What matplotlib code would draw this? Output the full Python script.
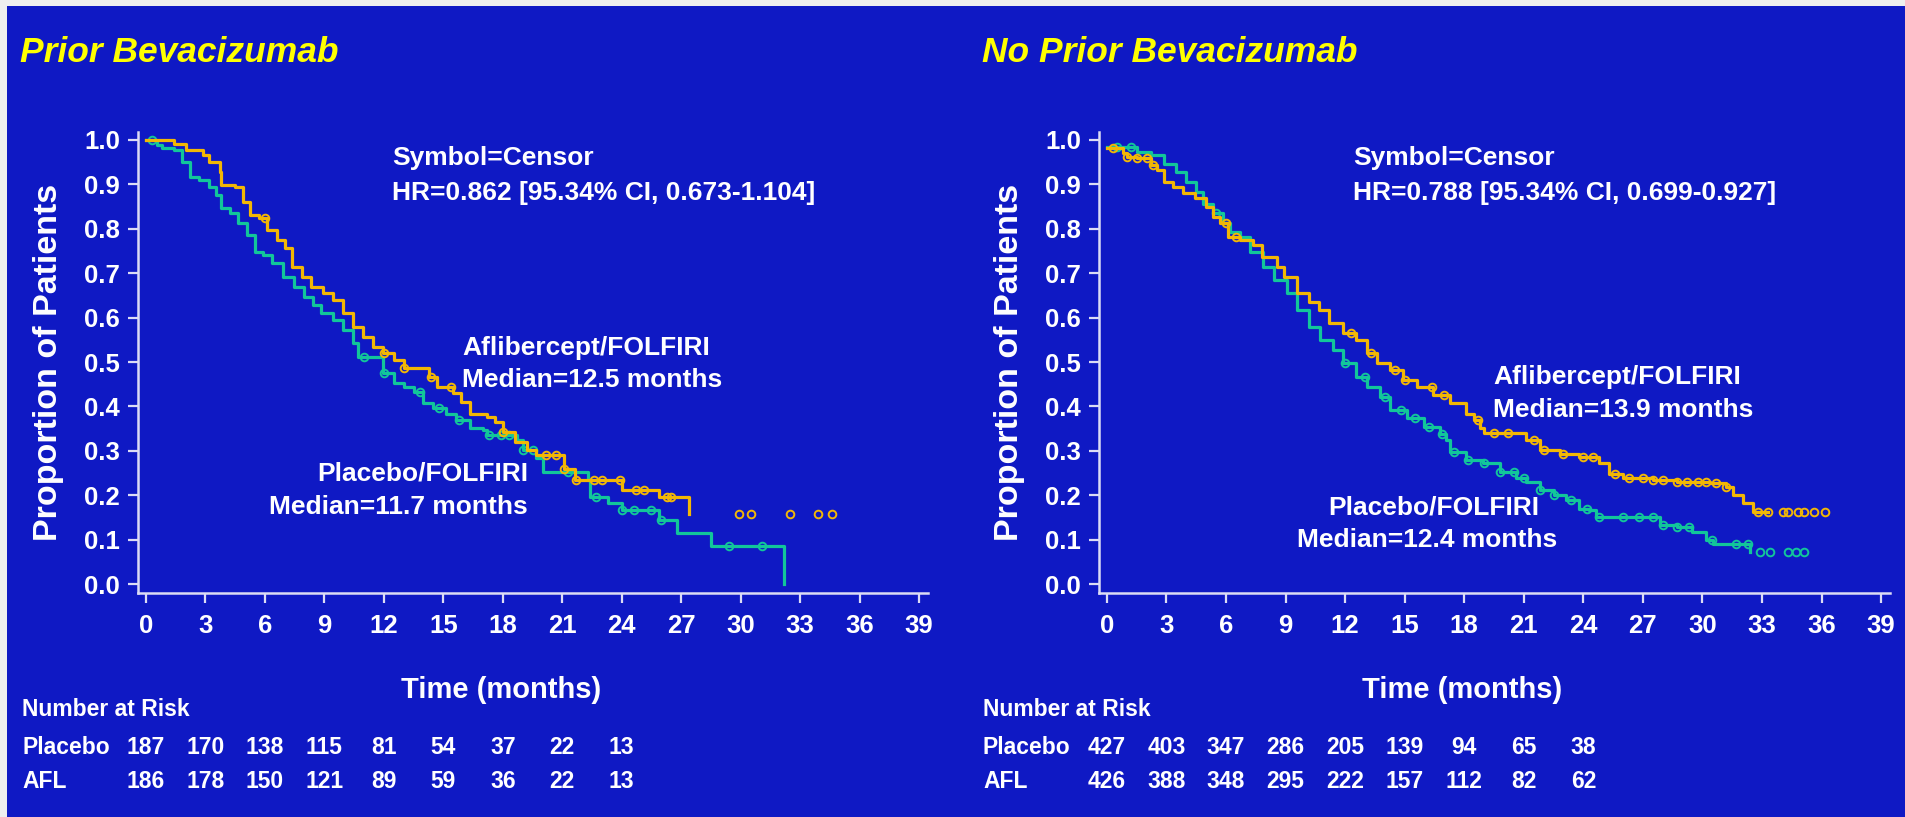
import numpy as np
import matplotlib
matplotlib.use('Agg')
import matplotlib.pyplot as plt
import matplotlib.transforms as mtransforms
from matplotlib.patches import Rectangle

plt.rcParams['font.family'] = ['Liberation Sans', 'DejaVu Sans']
plt.rcParams['font.weight'] = 'bold'

BLUE = '#0F19C4'
ORANGE = '#F2B705'
GREEN = '#12C69A'
WHITE = '#FFFFFF'
SPINE = '#DCDCF5'

# ---- data ----
titles = ['Prior Bevacizumab', 'No Prior Bevacizumab']
hr_text = ['HR=0.862 [95.34% CI, 0.673-1.104]', 'HR=0.788 [95.34% CI, 0.699-0.927]']
afl_median = ['Median=12.5 months', 'Median=13.9 months']
pbo_median = ['Median=11.7 months', 'Median=12.4 months']

risk_times = [0, 3, 6, 9, 12, 15, 18, 21, 24]
risk_pbo_prior = [187, 170, 138, 115, 81, 54, 37, 22, 13]
risk_afl_prior = [186, 178, 150, 121, 89, 59, 36, 22, 13]
risk_pbo_noprior = [427, 403, 347, 286, 205, 139, 94, 65, 38]
risk_afl_noprior = [426, 388, 348, 295, 222, 157, 112, 82, 62]

# prior bevacizumab - aflibercept
afl1_t = [0, 1.4, 2.0, 2.9, 3.2, 3.75, 3.8, 4.5, 4.9, 5.25, 5.7, 6.1, 6.6, 7.0, 7.35, 7.85,
          8.35, 8.95, 9.45, 9.95, 10.45, 10.95, 11.45, 11.95, 12.5, 13.0, 14.3, 14.7, 15.5,
          15.9, 16.35, 17.2, 17.6, 18.0, 18.6, 19.2, 19.7, 21.1, 21.65, 21.9, 24.0, 25.9, 27.4]
afl1_s = [1.0, 0.992, 0.977, 0.966, 0.951, 0.929, 0.899, 0.895, 0.861, 0.831, 0.824, 0.797,
          0.775, 0.756, 0.715, 0.692, 0.670, 0.655, 0.640, 0.610, 0.580, 0.557, 0.534, 0.520,
          0.505, 0.486, 0.467, 0.444, 0.430, 0.410, 0.384, 0.377, 0.365, 0.343, 0.320, 0.302,
          0.290, 0.260, 0.234, 0.234, 0.213, 0.197, 0.159]
afl1_cens = [6.0, 12.0, 13.0, 14.4, 15.4, 18.0, 20.2, 20.7, 21.1, 21.7, 22.6, 23.0, 23.9,
             24.7, 25.1, 26.3, 26.5, 29.9, 30.5, 32.5, 33.9, 34.6]

# prior bevacizumab - placebo
pbo1_t = [0, 0.55, 0.8, 1.4, 1.8, 2.2, 2.7, 3.2, 3.55, 3.8, 4.25, 4.65, 5.1, 5.5, 5.9, 6.35,
          6.9, 7.45, 7.95, 8.45, 8.85, 9.45, 9.95, 10.45, 10.7, 11.95, 12.5, 13.0, 13.5, 14.0,
          14.5, 15.15, 15.65, 16.35, 17.0, 17.2, 18.7, 19.0, 19.7, 20.05, 22.3, 22.4, 23.3,
          24.0, 25.9, 26.8, 28.5, 32.2]
pbo1_s = [1.0, 0.989, 0.981, 0.977, 0.951, 0.917, 0.910, 0.895, 0.876, 0.846, 0.835, 0.812,
          0.786, 0.748, 0.741, 0.722, 0.692, 0.670, 0.647, 0.628, 0.610, 0.595, 0.572, 0.542,
          0.512, 0.475, 0.452, 0.444, 0.433, 0.407, 0.396, 0.384, 0.369, 0.351, 0.347, 0.336,
          0.324, 0.302, 0.283, 0.253, 0.234, 0.197, 0.182, 0.167, 0.144, 0.114, 0.086, 0.0]
pbo1_cens = [0.3, 11.0, 12.0, 13.8, 14.8, 15.8, 17.3, 17.9, 18.3, 19.0, 19.5, 21.3, 22.7,
             24.0, 24.6, 25.5, 26.0, 29.4, 31.1]

# no prior bevacizumab - aflibercept
afl2_t = [0, 0.8, 1.0, 1.5, 2.2, 2.5, 2.85, 3.35, 3.85, 4.45, 5.0, 5.35, 5.7, 6.1, 6.7, 7.35,
          7.8, 8.55, 8.9, 9.55, 10.2, 10.7, 11.2, 11.9, 12.55, 13.1, 13.6, 14.25, 14.9, 15.6,
          16.45, 17.3, 18.1, 18.5, 18.8, 19.0, 21.1, 21.8, 22.8, 23.8, 24.8, 25.3, 26.0, 27.5,
          28.7, 30.4, 31.2, 31.55, 32.05, 32.55, 33.3]
afl2_s = [0.981, 0.970, 0.962, 0.959, 0.944, 0.932, 0.906, 0.895, 0.880, 0.869, 0.850, 0.827,
          0.812, 0.782, 0.775, 0.763, 0.737, 0.715, 0.692, 0.655, 0.636, 0.617, 0.587, 0.565,
          0.550, 0.520, 0.497, 0.482, 0.459, 0.444, 0.426, 0.407, 0.384, 0.369, 0.352, 0.340,
          0.324, 0.302, 0.294, 0.287, 0.272, 0.249, 0.238, 0.234, 0.230, 0.227, 0.219, 0.200,
          0.182, 0.163, 0.163]
afl2_cens = [0.3, 1.0, 1.5, 2.0, 2.3, 6.0, 6.5, 12.3, 13.3, 14.5, 15.0, 16.4, 17.0, 18.7, 19.5,
             20.2, 21.5, 22.0, 23.0, 24.0, 24.5, 25.6, 26.3, 27.0, 27.5, 28.0, 28.7, 29.2,
             29.8, 30.2, 30.7, 31.2, 32.8, 33.3, 34.07, 34.3, 34.8, 35.1, 35.6, 36.2]

# no prior bevacizumab - placebo
pbo2_t = [0, 1.5, 2.2, 2.85, 3.5, 4.0, 4.5, 4.85, 5.35, 5.85, 6.2, 6.7, 7.2, 7.85, 8.4, 9.05,
          9.55, 10.2, 10.75, 11.4, 11.9, 12.55, 13.1, 13.75, 14.25, 15.1, 15.95, 16.8, 17.1,
          17.3, 18.1, 18.95, 19.8, 20.6, 21.1, 21.8, 22.5, 23.15, 23.8, 24.3, 24.65, 27.85,
          28.7, 29.5, 30.2, 30.55, 32.4]
pbo2_s = [0.985, 0.974, 0.966, 0.947, 0.929, 0.906, 0.884, 0.857, 0.835, 0.812, 0.793, 0.782,
          0.748, 0.715, 0.685, 0.655, 0.617, 0.580, 0.550, 0.527, 0.497, 0.467, 0.444, 0.422,
          0.392, 0.373, 0.354, 0.339, 0.324, 0.298, 0.279, 0.272, 0.253, 0.238, 0.230, 0.212,
          0.200, 0.189, 0.170, 0.167, 0.150, 0.133, 0.129, 0.118, 0.099, 0.090, 0.073]
pbo2_cens = [0.5, 1.2, 5.5, 12.0, 13.0, 14.0, 14.8, 15.5, 16.2, 16.9, 17.5, 18.2, 19.0, 19.8,
             20.5, 21.0, 21.8, 22.5, 23.4, 24.2, 24.8, 26.0, 26.8, 27.5, 28.0, 28.7, 29.3,
             30.5, 31.7, 32.3, 32.9, 33.4, 34.3, 34.7, 35.1]


def surv_at(t, s, when):
    idx = np.searchsorted(np.array(t), np.array(when), side='right') - 1
    return np.array(s)[idx]


fig = plt.figure(figsize=(19.05, 8.17), dpi=100)
fig.patch.set_facecolor('#EFEFEF')
fig.patches.append(Rectangle((7 / 1905, 0), 1, 1 - 6 / 817, transform=fig.transFigure,
                             facecolor=BLUE, edgecolor='none', zorder=-10))

ax1 = fig.add_axes([138 / 1905, 224 / 817, 790 / 1905, 461 / 817])
ax2 = fig.add_axes([1099 / 1905, 224 / 817, 791 / 1905, 461 / 817])

panels = [
    (ax1, afl1_t, afl1_s, afl1_cens, pbo1_t, pbo1_s, pbo1_cens, risk_pbo_prior, risk_afl_prior, 20, 22),
    (ax2, afl2_t, afl2_s, afl2_cens, pbo2_t, pbo2_s, pbo2_cens, risk_pbo_noprior, risk_afl_noprior, 982, 983),
]

for i, (ax, at, as_, ac, pt, ps, pc, rp, ra, title_x, table_x) in enumerate(panels):
    ax.set_facecolor('none')
    ax.step(pt, ps, where='post', color=GREEN, lw=2.3, zorder=3)
    ax.step(at, as_, where='post', color=ORANGE, lw=2.3, zorder=4)
    ax.plot(pc, surv_at(pt, ps, pc), 'o', ms=5.5, mfc='none', mec=GREEN, mew=1.4, zorder=3)
    ax.plot(ac, surv_at(at, as_, ac), 'o', ms=5.5, mfc='none', mec=ORANGE, mew=1.4, zorder=4)

    ax.set_xlim(-0.4, 39.45)
    ax.set_ylim(-0.02, 1.018)
    ax.set_xticks(np.arange(0, 40, 3))
    ax.set_yticks(np.arange(0, 1.01, 0.1))
    ax.set_yticklabels(['%.1f' % v for v in np.arange(0, 1.01, 0.1)])
    for sp in ['top', 'right']:
        ax.spines[sp].set_visible(False)
    for sp in ['left', 'bottom']:
        ax.spines[sp].set_color(SPINE)
        ax.spines[sp].set_linewidth(1.8)
    ax.tick_params(colors=SPINE, labelcolor=WHITE, labelsize=18.5, length=7, width=1.6)
    ax.tick_params(axis='y', pad=6)
    ax.tick_params(axis='x', pad=8)

    ax.text(-0.113, 0.5, 'Proportion of Patients', transform=ax.transAxes, rotation=90,
            ha='center', va='center', color=WHITE, fontsize=24.5, fontweight='bold')

    # annotations
    ax.text(12.4, 0.959, 'Symbol=Censor', color=WHITE, fontsize=19, va='center', ha='left')
    ax.text(12.4, 0.881, hr_text[i], color=WHITE, fontsize=19, va='center', ha='left')
    if i == 0:
        ax.text(15.94, 0.532, 'Aflibercept/FOLFIRI', color=WHITE, fontsize=19, va='center')
        ax.text(15.94, 0.459, afl_median[i], color=WHITE, fontsize=19, va='center')
        ax.text(19.27, 0.250, 'Placebo/FOLFIRI', color=WHITE, fontsize=19, va='center', ha='right')
        ax.text(19.27, 0.173, pbo_median[i], color=WHITE, fontsize=19, va='center', ha='right')
    else:
        ax.text(19.45, 0.466, 'Aflibercept/FOLFIRI', color=WHITE, fontsize=19, va='center')
        ax.text(19.45, 0.392, afl_median[i], color=WHITE, fontsize=19, va='center')
        ax.text(11.13, 0.173, 'Placebo/FOLFIRI', color=WHITE, fontsize=19, va='center')
        ax.text(9.57, 0.099, pbo_median[i], color=WHITE, fontsize=19, va='center')

    # titles and x label / risk table
    fig.text(title_x / 1905, 1 - 52 / 817, titles[i], color='#FFFF00', fontsize=25.5,
             fontstyle='italic', fontweight='bold', va='center', ha='left')
    blend = mtransforms.blended_transform_factory(ax.transData, fig.transFigure)
    ax.text(17.9, 1 - 690 / 817, 'Time (months)', transform=blend, color=WHITE,
            fontsize=21, ha='center', va='center')
    fig.text(table_x / 1905, 1 - 710 / 817, 'Number at Risk', color=WHITE, fontsize=16.5, va='center')
    fig.text(table_x / 1905, 1 - 747 / 817, 'Placebo', color=WHITE, fontsize=16.5, va='center')
    fig.text(table_x / 1905, 1 - 782 / 817, 'AFL', color=WHITE, fontsize=16.5, va='center')
    for t, n1, n2 in zip(risk_times, rp, ra):
        ax.text(t, 1 - 747 / 817, str(n1), transform=blend, color=WHITE, fontsize=16.5,
                ha='center', va='center')
        ax.text(t, 1 - 782 / 817, str(n2), transform=blend, color=WHITE, fontsize=16.5,
                ha='center', va='center')

fig.savefig('out.png', dpi=100, facecolor=fig.get_facecolor())
